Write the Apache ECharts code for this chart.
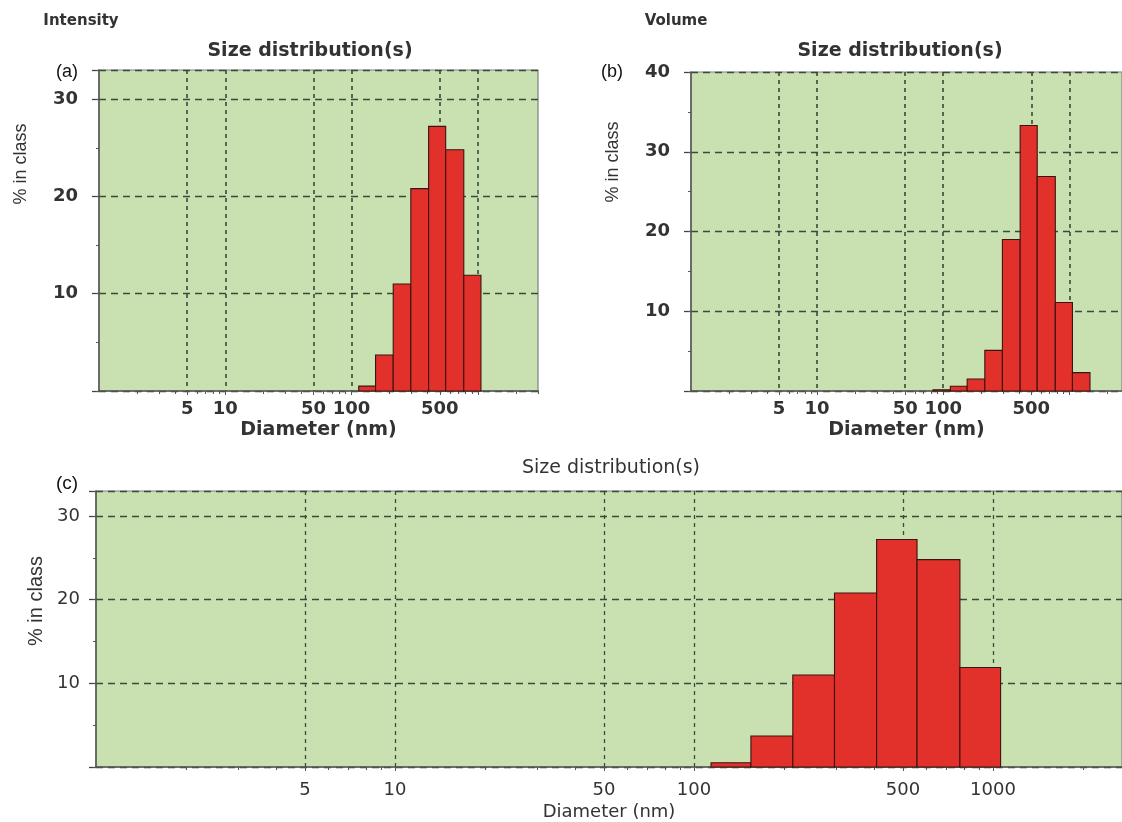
<!DOCTYPE html>
<html>
<head>
<meta charset="utf-8">
<title>Size distribution(s)</title>
<script src="https://cdn.jsdelivr.net/npm/echarts@6/dist/echarts.min.js"></script>
<style>
html, body { margin: 0; padding: 0; background: #ffffff; }
#chart { width: 1122px; height: 822px; }
</style>
</head>
<body>
<div id="chart"></div>
<script>
// size class edges (nm), log spaced
var binEdges = [83, 114, 155, 214, 295, 408, 557, 775, 1060, 1460];
// % in class by intensity, one value per class (panels a and c)
var intensityPct = [0, 0.5, 3.7, 11.0, 20.8, 27.2, 24.8, 11.9, 0];
// % in class by volume (panel b)
var volumePct = [0.15, 0.6, 1.5, 5.1, 19.0, 33.3, 26.9, 11.1, 2.3];
// x axis: dashed grid positions, labels, minor ticks
var xGridTicks = [5, 10, 50, 100, 500, 1000];
var xLabelsAB = [5, 10, 50, 100, 500];
var xLabelsC = [5, 10, 50, 100, 500, 1000];
var xMinorTicks = [2, 3, 4, 6, 7, 8, 9, 20, 30, 40, 60, 70, 80, 90,
    200, 300, 400, 600, 700, 800, 900, 2000, 3000];
// x range shown in each panel (b and c are cut at the picture edge)
var xMaxA = 3000, xMaxB = 2620, xMaxC = 2700;
// y axis upper limits
var yMaxA = 33, yMaxB = 40, yMaxC = 33;

var GREEN = '#c9e1b1';
var RED = '#e2302a';
var GRIDLINE = '#3a4a3a';
var TEXT = '#333333';

//组合直方图数据 [from, to, value]
function toBins(values) {
    var out = [];
    for (var i = 0; i < values.length; i++) {
        if (values[i] > 0) {
            out.push([binEdges[i], binEdges[i + 1], values[i]]);
        }
    }
    return out;
}

//画一个柱子，坐标全部经过坐标轴换算
function renderBin(params, api) {
    var p0 = api.coord([api.value(0), api.value(2)]);
    var p1 = api.coord([api.value(1), 0]);
    return {
        type: 'rect',
        shape: { x: p0[0], y: p0[1], width: p1[0] - p0[0], height: p1[1] - p0[1] },
        style: { fill: RED, stroke: '#3a1410', lineWidth: 1.1 }
    };
}

//每个面板的坐标轴
function makeAxes(gi, f) {
    var major = {
        type: 'log', logBase: 10, gridIndex: gi, min: 1, max: f.xMax,
        position: 'bottom',
        axisLine: { show: true, onZero: false, lineStyle: { color: '#555', width: 1.5 } },
        axisTick: { show: true, customValues: xGridTicks, length: 4, lineStyle: { color: '#555' } },
        axisLabel: {
            customValues: f.labels, margin: f.xMargin, color: TEXT,
            fontFamily: f.family, fontSize: f.size, fontWeight: f.weight,
            formatter: function (v) { return String(v); }
        },
        splitLine: { show: true, lineStyle: { color: GRIDLINE, width: f.vLine, type: [4, 4] } },
        name: 'Diameter (nm)', nameLocation: 'middle', nameGap: f.nameGap,
        nameTextStyle: { color: TEXT, fontFamily: f.family, fontSize: f.nameSize, fontWeight: f.weight }
    };
    var minor = {
        type: 'log', logBase: 10, gridIndex: gi, min: 1, max: f.xMax,
        position: 'bottom',
        axisLine: { show: false, onZero: false },
        axisTick: { show: true, customValues: xMinorTicks, length: 3, lineStyle: { color: '#555' } },
        axisLabel: { show: false },
        splitLine: { show: false }
    };
    var yMajor = {
        type: 'value', gridIndex: gi, min: 0, max: f.yMax, interval: 10,
        position: 'left',
        axisLine: { show: true, lineStyle: { color: '#555', width: 1.5 } },
        axisTick: { show: true, length: 7, lineStyle: { color: GRIDLINE, width: 1.3 } },
        axisLabel: {
            margin: f.yMargin, color: TEXT, fontFamily: f.family, fontSize: f.size, fontWeight: f.weight,
            formatter: function (v) { return (v > 0 && v % 10 === 0) ? String(v) : ''; }
        },
        splitLine: { show: true, lineStyle: { color: GRIDLINE, width: 1.3, type: [7, 5] } }
    };
    var yMinor = {
        type: 'value', gridIndex: gi, min: 0, max: f.yMax, interval: 5,
        position: 'left',
        axisLine: { show: false },
        axisTick: { show: true, length: 3, lineStyle: { color: '#555' } },
        axisLabel: { show: false },
        splitLine: { show: false }
    };
    return { x: [major, minor], y: [yMajor, yMinor] };
}

var boldFont = {
    family: 'DejaVu Sans', weight: 'bold', size: 18, nameSize: 19,
    xMargin: 9, nameGap: 30, yMargin: 21, vLine: 1.6
};
var axA = makeAxes(0, Object.assign({}, boldFont, { labels: xLabelsAB, xMax: xMaxA, yMax: yMaxA }));
var axB = makeAxes(1, Object.assign({}, boldFont, { labels: xLabelsAB, xMax: xMaxB, yMax: yMaxB }));
var axC = makeAxes(2, {
    family: 'DejaVu Sans', weight: 'normal', size: 18, nameSize: 18, xMargin: 14, nameGap: 36,
    yMargin: 16, vLine: 1.3, labels: xLabelsC, xMax: xMaxC, yMax: yMaxC
});

var gridBase = { show: true, backgroundColor: GREEN, borderColor: '#808080', borderWidth: 1.2 };

function freeText(text, x, y, size, weight, family, rot, color) {
    return {
        type: 'text', x: x, y: y, rotation: rot || 0,
        style: {
            text: text, fill: color || TEXT, align: 'center', verticalAlign: 'middle',
            fontSize: size, fontWeight: weight, fontFamily: family
        }
    };
}

var chart = echarts.init(document.getElementById('chart'));
chart.setOption({
    animation: false,
    backgroundColor: '#ffffff',
    grid: [
        Object.assign({ left: 99, top: 70, width: 439, height: 321 }, gridBase),
        Object.assign({ left: 691, top: 72, right: 0, height: 319 }, gridBase),
        Object.assign({ left: 96, top: 491, right: 0, height: 277 }, gridBase)
    ],
    xAxis: axA.x.concat(axB.x, axC.x),
    yAxis: axA.y.concat(axB.y, axC.y),
    series: [
        { type: 'custom', name: 'Intensity', xAxisIndex: 0, yAxisIndex: 0, renderItem: renderBin,
          encode: { x: [0, 1], y: 2 }, data: toBins(intensityPct) },
        { type: 'custom', name: 'Volume', xAxisIndex: 2, yAxisIndex: 2, renderItem: renderBin,
          encode: { x: [0, 1], y: 2 }, data: toBins(volumePct) },
        { type: 'custom', name: 'Intensity (c)', xAxisIndex: 4, yAxisIndex: 4, renderItem: renderBin,
          encode: { x: [0, 1], y: 2 }, data: toBins(intensityPct) }
    ],
    graphic: [
        freeText('Intensity', 81, 21, 15, 'bold', 'DejaVu Sans'),
        freeText('Volume', 676, 21, 15, 'bold', 'DejaVu Sans'),
        freeText('Size distribution(s)', 310, 51, 19, 'bold', 'DejaVu Sans'),
        freeText('Size distribution(s)', 900, 51, 19, 'bold', 'DejaVu Sans'),
        freeText('Size distribution(s)', 611, 468, 19, 'normal', 'DejaVu Sans'),
        freeText('(a)', 67, 72, 18, 'normal', 'Liberation Sans', 0, '#111'),
        freeText('(b)', 612, 72, 18, 'normal', 'Liberation Sans', 0, '#111'),
        freeText('(c)', 67, 484, 19, 'normal', 'Liberation Sans', 0, '#111'),
        freeText('% in class', 21, 164, 18, 'normal', 'Liberation Sans', Math.PI / 2),
        freeText('% in class', 613, 162, 18, 'normal', 'Liberation Sans', Math.PI / 2),
        freeText('% in class', 36, 601, 20, 'normal', 'Liberation Sans', Math.PI / 2)
    ]
});
</script>
</body>
</html>
